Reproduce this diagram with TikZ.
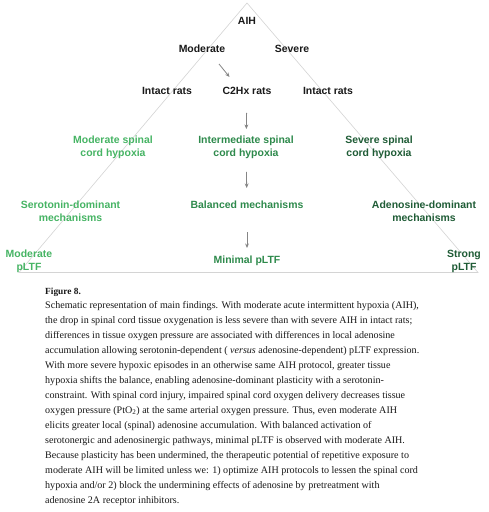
\documentclass[tikz,border=0pt]{standalone}
\usepackage{fontspec}
\setmainfont{Liberation Serif}
\newfontfamily\arialf{Liberation Sans}
\usetikzlibrary{arrows.meta,calc}
\definecolor{gA}{HTML}{46B464}
\definecolor{gB}{HTML}{2E8A4C}
\definecolor{gC}{HTML}{1F5C36}
\definecolor{tri}{HTML}{D4D4D4}
\definecolor{arrc}{HTML}{858585}
\tikzset{
  lab/.style={font=\arialf\bfseries\fontsize{10.5}{12.7}\selectfont, align=center, inner sep=0pt, text=black!90},
  labA/.style={lab, text=gA},
  labB/.style={lab, text=gB},
  labC/.style={lab, text=gC},
  arr/.style={draw=arrc, line width=0.8bp, -{Stealth[length=4.5bp,width=3.8bp]}},
  capt/.style={font=\fontsize{10.1}{15}\selectfont, anchor=base west, inner sep=0pt, text=black!90},
}
\begin{document}
\begin{tikzpicture}[x=1bp,y=-1bp]
\useasboundingbox (0,0) rectangle (489,512);
\fill[white] (0,0) rectangle (489,512);
% triangle
\draw[tri, line width=0.6bp] (247,3) -- (478,272.5) -- (19,272.5) -- cycle;
% nodes
\node[lab] (aih) at (247,20.5) {AIH};
\node[lab] (mod) at (202,49) {Moderate};
\node[lab] (sev) at (292,49) {Severe};
\node[lab] (intl) at (167,91) {Intact rats};
\node[lab] (c2hx) at (247,91) {C2Hx rats};
\node[lab] (intr) at (328,91) {Intact rats};
\node[labA] (hypA) at (113,147.5) {Moderate spinal\\cord hypoxia};
\node[labB] (hypB) at (246,147.5) {Intermediate spinal\\cord hypoxia};
\node[labC] (hypC) at (379,147.5) {Severe spinal\\cord hypoxia};
\node[labA] (mecA) at (70.5,211.5) {Serotonin-dominant\\mechanisms};
\node[labB] (mecB) at (247,205) {Balanced mechanisms};
\node[labC] (mecC) at (424,211.5) {Adenosine-dominant\\mechanisms};
\node[labA] (ltfA) at (29,261.5) {Moderate\\pLTF};
\node[labB] (ltfB) at (247,260.7) {Minimal pLTF};
\node[labC] (ltfC) at (464,261.5) {Strong\\pLTF};
% arrows
\coordinate (a1s) at ($(mod.center)+(17,15)$);
\coordinate (a1e) at ($(mod.center)+(27.5,28)$);
\draw[arr] (a1s) -- (a1e);
\draw[arr, shorten <=22bp, shorten >=18.5bp] (c2hx.center) -- (hypB.center);
\draw[arr, shorten <=24.5bp, shorten >=17bp] (hypB.center) -- (mecB.center);
\draw[arr, shorten <=27bp, shorten >=12.7bp] (mecB.center) -- (ltfB.center);
% caption
\node[capt, font=\bfseries\fontsize{9.4}{12}\selectfont] (fig) at (45,294) {Figure 8.};
\node[capt] (c1) at (45,308.5) {Schematic representation of main findings. With moderate acute intermittent hypoxia (AIH),};
\node[capt] (c2) at (45,323.5) {the drop in spinal cord tissue oxygenation is less severe than with severe AIH in intact rats;};
\node[capt] (c3) at (45,338.5) {differences in tissue oxygen pressure are associated with differences in local adenosine};
\node[capt] (c4) at (45,353.5) {accumulation allowing serotonin-dependent ( \textit{versus} adenosine-dependent) pLTF expression.};
\node[capt] (c5) at (45,368.5) {With more severe hypoxic episodes in an otherwise same AIH protocol, greater tissue};
\node[capt] (c6) at (45,383.5) {hypoxia shifts the balance, enabling adenosine-dominant plasticity with a serotonin-};
\node[capt] (c7) at (45,398.5) {constraint. With spinal cord injury, impaired spinal cord oxygen delivery decreases tissue};
\node[capt] (c8) at (45,413.5) {oxygen pressure (PtO\textsubscript{2}) at the same arterial oxygen pressure. Thus, even moderate AIH};
\node[capt] (c9) at (45,428.5) {elicits greater local (spinal) adenosine accumulation. With balanced activation of};
\node[capt] (c10) at (45,443.5) {serotonergic and adenosinergic pathways, minimal pLTF is observed with moderate AIH.};
\node[capt] (c11) at (45,458.5) {Because plasticity has been undermined, the therapeutic potential of repetitive exposure to};
\node[capt] (c12) at (45,473.5) {moderate AIH will be limited unless we: 1) optimize AIH protocols to lessen the spinal cord};
\node[capt] (c13) at (45,488.5) {hypoxia and/or 2) block the undermining effects of adenosine by pretreatment with};
\node[capt] (c14) at (45,503.5) {adenosine 2A receptor inhibitors.};
\end{tikzpicture}
\end{document}
